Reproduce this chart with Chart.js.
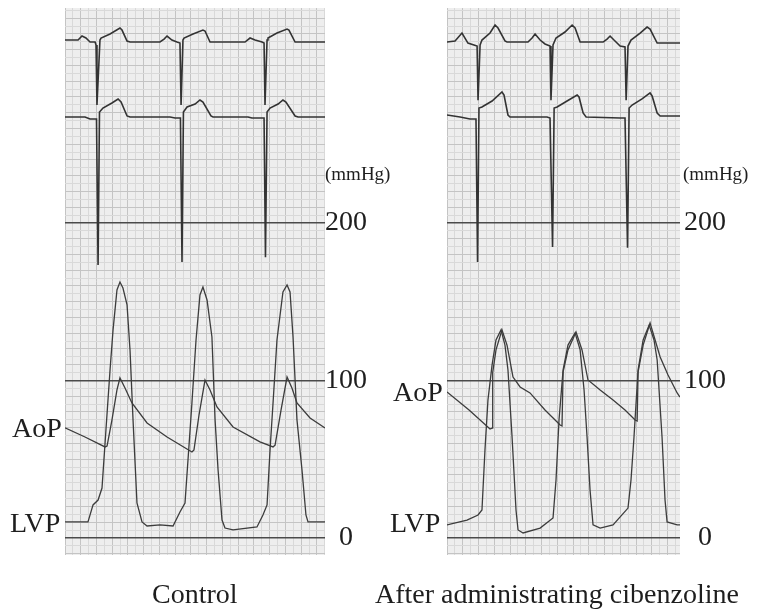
<!DOCTYPE html>
<html>
<head>
<meta charset="utf-8">
<script src="https://cdn.jsdelivr.net/npm/chart.js@4.4.1/dist/chart.umd.min.js"></script>
<style>
  html, body { margin:0; padding:0; background:#fff; }
  #wrap { position:relative; width:758px; height:613px; overflow:hidden; }
  canvas { position:absolute; left:0; top:0; }
  .lbl { position:absolute; font-family:"Liberation Serif","Times New Roman",serif; color:#1e1e1e; line-height:1; white-space:nowrap; }
  .big { font-size:28px; }
  .unit { font-size:19px; }
</style>
</head>
<body>
<div id="wrap">
  <canvas id="c1" width="758" height="613"></canvas>
  <canvas id="c2" width="758" height="613"></canvas>
  <div class="lbl unit" style="left:325px;top:164px;">(mmHg)</div>
  <div class="lbl unit" style="left:683px;top:164px;">(mmHg)</div>
  <div class="lbl big" style="left:12px;top:414px;">AoP</div>
  <div class="lbl big" style="left:10px;top:509px;">LVP</div>
  <div class="lbl big" style="left:393px;top:378px;">AoP</div>
  <div class="lbl big" style="left:390px;top:509px;">LVP</div>
  <div class="lbl big" style="left:152px;top:580px;">Control</div>
  <div class="lbl big" style="left:375px;top:580px;">After administrating cibenzoline</div>
</div>
<script>
// ---------------- DATA ----------------
// time in ms, pressure in mmHg
const pressureTickLabels = [0, 100, 200];

const ctrlAoP = [[0,70],[127,64.1],[254,57.8],[267,58.4],[298,74.9],[330,94],[349,101.6],[381,95.2],[425,85.7],[521,73],[648,64.1],[806,54.6],
  [819,55.9],[851,78.1],[889,100.3],[921,94],[965,83.2],[1067,70.5],[1238,61],[1321,57.8],
  [1334,59],[1372,81.3],[1410,102.2],[1441,95.2],[1473,85.7],[1556,76.2],[1651,69.8]];

const ctrlLVP = [[0,10.2],[146,10.2],[178,21],[210,24.1],[235,31.7],[260,68.6],[286,106.7],[305,132],[330,157.5],[349,162.5],[368,158.7],[394,148],[413,119],[432,75],[457,22.2],[489,10.2],[521,7.6],[603,8.3],[686,7.6],
  [730,16.5],[762,22.2],[781,49.5],[806,85.7],[832,125.7],[857,154.3],[876,159.4],[902,151.1],[933,127.6],[953,75],[972,43.2],[997,11.4],[1016,6.3],[1067,5.1],[1219,7],
  [1257,14.6],[1283,21],[1302,55.9],[1321,85.7],[1346,125.7],[1384,156.2],[1410,160.6],[1429,156.2],[1448,127.6],[1473,75],[1505,43.2],[1530,14.6],[1543,10.2],[1651,10.2]];

const cibAoP = [[0,92.7],[140,81.3],[273,69.2],[286,69.8],[290,105],[311,119.4],[349,132.1],[381,122.5],[419,102.2],[464,95.9],[527,92.1],[622,81.3],[718,71.7],[730,71.1],
  [737,105.4],[768,119.4],[819,130.8],[857,119.4],[895,100.3],[972,94],[1054,87.6],[1130,81.3],[1194,74.9],[1207,74.3],
  [1213,105.4],[1245,122.5],[1289,136.5],[1321,125.7],[1353,114.9],[1403,103.5],[1461,92.1],[1479,89.5]];

const cibLVP = [[0,8.3],[127,11.4],[197,14.6],[222,17.8],[241,55.9],[260,87.6],[286,109.8],[311,125.7],[343,132.1],[368,122.5],[387,106.7],[413,64.1],[438,17.8],[451,5.1],[483,3.2],[591,6.3],
  [673,12.7],[692,36.8],[711,74.9],[737,106.7],[768,122.5],[813,130.2],[845,119.4],[870,94],[889,64.1],[908,30.5],[927,8.3],[972,6.3],[1054,8.3],
  [1149,19],[1168,36.8],[1187,64.1],[1213,106.7],[1245,125.7],[1283,135.2],[1314,125.7],[1334,113],[1365,64.1],[1384,24.1],[1397,10.2],[1461,8.3],[1479,8.3]];

// ECG leads: deflection from each lead's baseline (chart-paper mm)
const ctrlLead1 = [[0,0.25],[83,0.25],[108,0.76],[133,0.51],[159,0],[191,0],[197,-0.38],[203,-8],[222,0.25],[229,0.51],[286,1.02],[349,1.78],[362,1.52],[394,0.13],[413,0],
  [603,0],[629,0.38],[648,0.76],[679,0.25],[711,0],[730,-0.13],[737,-8],[749,0.25],[756,0.51],[813,1.02],[876,1.52],[889,1.4],[921,0],
  [1143,0],[1175,0.51],[1207,0.25],[1251,0],[1264,-0.13],[1270,-8],[1283,0.25],[1289,0.51],[1346,1.14],[1410,1.65],[1422,1.52],[1461,0],[1651,0]];

const ctrlLead2 = [[0,0],[127,0],[159,-0.25],[191,-0.25],[200,-0.25],[210,-18.8],[219,0.63],[241,1.14],[298,1.78],[337,2.29],[356,1.9],[394,0.13],[413,0],
  [667,0],[699,-0.13],[733,-0.13],[743,-18.4],[752,0.63],[775,1.27],[826,1.65],[857,2.16],[876,1.9],[927,0.13],[940,0],
  [1162,0],[1187,-0.13],[1264,-0.13],[1273,-17.8],[1283,0.63],[1302,1.14],[1353,1.65],[1384,2.16],[1403,1.9],[1461,0.13],[1480,0],[1651,0]];

const cibLead1 = [[0,0],[51,0.13],[95,1.14],[133,-0.13],[171,-0.38],[191,-0.51],[197,-7.4],[210,-0.38],[222,0.25],[273,1.14],[305,2.16],[324,1.78],[368,0.13],[381,0],
  [514,0],[540,0.51],[559,1.02],[591,0.25],[622,-0.25],[654,-0.51],[660,-7.4],[673,-0.38],[692,0.51],[749,1.27],[794,2.16],[813,1.78],[845,0],
  [991,0],[1016,0.38],[1035,0.76],[1060,0.25],[1099,-0.51],[1130,-0.63],[1137,-7.4],[1149,-0.51],[1168,0.25],[1226,1.14],[1270,1.9],[1289,1.65],[1334,-0.13],[1479,-0.13]];

const cibLead2 = [[0,0.25],[83,0],[146,-0.25],[184,-0.25],[194,-18.4],[203,1.14],[222,1.27],[286,2.03],[349,3.17],[362,2.79],[387,0.25],[400,0],
  [635,0],[654,-0.13],[670,-16.5],[680,1.14],[699,1.27],[762,2.03],[826,2.79],[838,2.54],[864,0.51],[883,0],
  [1099,-0.13],[1130,-0.13],[1146,-16.6],[1156,1.14],[1175,1.52],[1238,2.29],[1289,3.05],[1302,2.67],[1334,0.51],[1353,0.13],[1479,0.13]];

// ---------------- CHART ----------------
const toXY = arr => arr.map(p => ({x:p[0], y:p[1]}));

const paperPlugin = {
  id:'paper',
  beforeDraw(chart){
    const a = chart.chartArea, c = chart.ctx;
    c.save();
    c.fillStyle = '#eeeeee';
    c.fillRect(a.left, a.top, a.right - a.left, a.bottom - a.top);
    c.restore();
  }
};

function makeChart(id, xMax, padLeft, padRight, tickPad, aop, lvp, l1, l2){
  const traceStyle = {borderColor:'#3c3c3c', borderWidth:1.3, pointRadius:0, tension:0, fill:false};
  const ecgStyle = {borderColor:'#333333', borderWidth:1.6, pointRadius:0, tension:0, fill:false};
  return new Chart(document.getElementById(id), {
    type:'line',
    data:{ datasets:[
      Object.assign({label:'AoP', data:toXY(aop), yAxisID:'y'}, traceStyle),
      Object.assign({label:'LVP', data:toXY(lvp), yAxisID:'y'}, traceStyle),
      Object.assign({label:'ECG1', data:toXY(l1), yAxisID:'e1'}, ecgStyle),
      Object.assign({label:'ECG2', data:toXY(l2), yAxisID:'e2'}, ecgStyle)
    ]},
    options:{
      responsive:false, animation:false, events:[],
      layout:{ padding:{left:padLeft, right:padRight, top:8, bottom:58} },
      plugins:{ legend:{display:false}, tooltip:{enabled:false} },
      scales:{
        x:{ type:'linear', min:0, max:xMax,
          afterBuildTicks(s){ const t=[]; for(let v=0; v<=xMax; v+=50) t.push({value:v}); s.ticks=t; },
          afterFit(s){ s.height = 0; s.paddingLeft = 0; s.paddingRight = 0; },
          ticks:{ display:false },
          border:{ display:false },
          grid:{ drawTicks:false, lineWidth:1,
            color:(c)=> (c.tick && c.tick.value % 100 === 0) ? '#c4c4c4' : '#d9d9d9' }
        },
        y:{ type:'linear', position:'right', min:-10.8, max:336.5,
          afterBuildTicks(s){ const t=[]; for(let v=-10; v<=335; v+=5) t.push({value:v}); s.ticks=t; },
          afterFit(s){ s.width = 60; s.paddingTop = 0; s.paddingBottom = 0; },
          border:{ display:false },
          ticks:{ autoSkip:false, crossAlign:'center', padding:tickPad, color:'#1e1e1e',
            font:{ family:'"Liberation Serif", "Times New Roman", serif', size:28 },
            callback:(v)=> pressureTickLabels.includes(v) ? String(v) : '' },
          grid:{ drawTicks:false,
            color:(c)=> { const v = c.tick ? c.tick.value : 1;
              if (pressureTickLabels.includes(v)) return '#4a4a4a';
              return (v % 10 === 0) ? '#c4c4c4' : '#d9d9d9'; },
            lineWidth:(c)=> (c.tick && pressureTickLabels.includes(c.tick.value)) ? 1.6 : 1 }
        },
        e1:{ type:'linear', display:false, min:-65.14, max:4.32 },
        e2:{ type:'linear', display:false, min:-55.62, max:13.84 }
      }
    },
    plugins:[paperPlugin]
  });
}

// left panel: chart area x 65..325 ; right panel: x 447..680
makeChart('c1', 1651, 65, 758-325-60, 0, ctrlAoP, ctrlLVP, ctrlLead1, ctrlLead2);
makeChart('c2', 1479, 447, 758-680-60, 4, cibAoP, cibLVP, cibLead1, cibLead2);
</script>
</body>
</html>
